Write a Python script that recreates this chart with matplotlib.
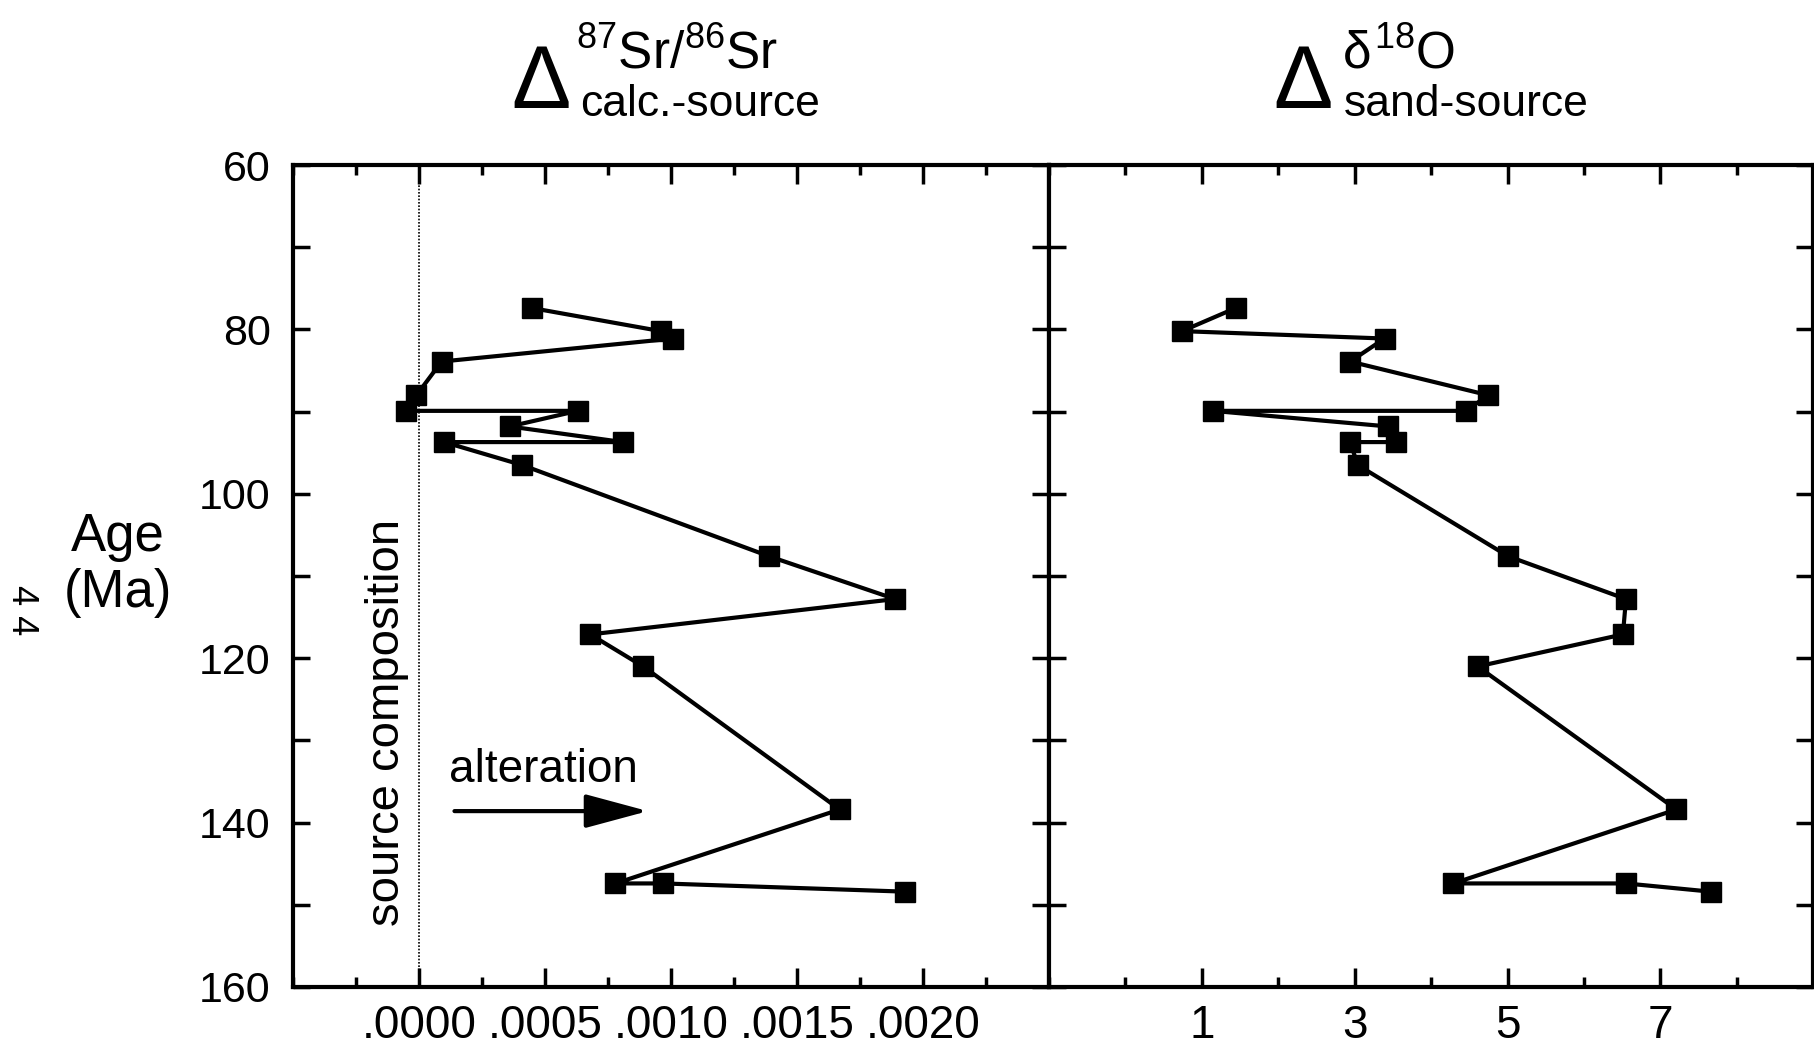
import matplotlib
matplotlib.use("Agg")
import matplotlib.pyplot as plt
from matplotlib.ticker import MultipleLocator

plt.rcParams['font.family'] = ['Liberation Sans', 'DejaVu Sans']
plt.rcParams['mathtext.fontset'] = 'custom'
plt.rcParams['mathtext.rm'] = 'Liberation Sans'
plt.rcParams['mathtext.it'] = 'Liberation Sans'

# ages (Ma) of the samples, shared by both panels
ages = [77.4, 80.2, 81.1, 83.9, 88.0, 89.9, 89.9, 91.8, 93.7, 93.7,
        96.5, 107.6, 112.8, 117.1, 121.0, 138.4, 147.4, 147.4, 148.4]

# delta 87Sr/86Sr (calcite - source)
d_sr = [0.00045, 0.00096, 0.00101, 0.00009, -0.00001, -0.00005, 0.00063,
        0.00036, 0.00081, 0.00010, 0.00041, 0.00139, 0.00189, 0.00068,
        0.00089, 0.00167, 0.00078, 0.00097, 0.00193]

# delta d18O (sand - source)
d_o = [1.44, 0.74, 3.39, 2.94, 4.75, 4.45, 1.14, 3.44, 3.54, 2.94,
       3.04, 5.01, 6.55, 6.51, 4.61, 7.21, 4.29, 6.55, 7.66]

sr_ticks = [0.0, 0.0005, 0.0010, 0.0015, 0.0020]
sr_labels = ['.0000', '.0005', '.0010', '.0015', '.0020']
o_ticks = [1, 3, 5, 7]
age_ticks = [60, 80, 100, 120, 140, 160]

fig = plt.figure(figsize=(18.15, 10.51), dpi=100)
ax1 = fig.add_axes([0.1614, 0.0609, 0.4165, 0.782])
ax2 = fig.add_axes([0.5780, 0.0609, 0.4210, 0.782])

for ax in (ax1, ax2):
    for s in ax.spines.values():
        s.set_linewidth(3)
    ax.set_ylim(160, 60)
    ax.set_yticks(age_ticks)
    ax.yaxis.set_minor_locator(MultipleLocator(10))
    ax.tick_params(which='both', direction='in', top=True, right=True, width=2.5)
    ax.tick_params(axis='x', which='major', length=14, labelsize=33, pad=12)
    ax.tick_params(axis='x', which='minor', length=7)
    ax.tick_params(axis='y', which='both', length=12, labelsize=31, pad=16)

ax1.plot(d_sr, ages, color='black', lw=3, marker='s', ms=14, mfc='black', mec='black')
ax1.set_xlim(-0.0005, 0.0025)
ax1.set_xticks(sr_ticks)
ax1.set_xticklabels(sr_labels)
ax1.xaxis.set_minor_locator(MultipleLocator(0.00025))
ax1.set_yticklabels([str(a) for a in age_ticks])
ax1.axvline(0, color='black', lw=1.2, ls=(0, (1, 1)))
ax1.text(-0.000125, 152.6, 'source composition', rotation=90, ha='center', va='bottom',
         fontsize=34)
ax1.text(0.000495, 133.6, 'alteration', ha='center', va='center', fontsize=33)
ax1.annotate('', xy=(0.00092, 138.6), xytext=(0.00013, 138.6),
             arrowprops=dict(arrowstyle='-|>,head_length=1.3,head_width=0.35',
                             lw=3, color='black', mutation_scale=30))

ax2.plot(d_o, ages, color='black', lw=3, marker='s', ms=14, mfc='black', mec='black')
ax2.set_xlim(-1, 9)
ax2.set_xticks(o_ticks)
ax2.xaxis.set_minor_locator(MultipleLocator(1))
ax2.set_yticklabels([])

fig.text(118 / 1815, 1 - 565 / 1051, 'Age\n(Ma)', ha='center', va='center',
         fontsize=38, linespacing=1.15)
fig.text(22 / 1815, 1 - 610 / 1051, '4 4', rotation=-90, ha='center', va='center',
         fontsize=26)

# panel headers
fig.text(540 / 1815, 1 - 108 / 1051, r'$\Delta$', fontsize=64, ha='center', va='baseline')
fig.text(576 / 1815, 1 - 68 / 1051, r'$^{87}$Sr/$^{86}$Sr', fontsize=37, ha='left', va='baseline')
fig.text(580 / 1815, 1 - 116 / 1051, 'calc.-source', fontsize=32, ha='left', va='baseline')

fig.text(1302 / 1815, 1 - 108 / 1051, r'$\Delta$', fontsize=64, ha='center', va='baseline')
fig.text(1342 / 1815, 1 - 68 / 1051, r'$\delta^{18}$O', fontsize=37, ha='left', va='baseline')
fig.text(1344 / 1815, 1 - 116 / 1051, 'sand-source', fontsize=32, ha='left', va='baseline')

fig.savefig('out.png', dpi=100)
